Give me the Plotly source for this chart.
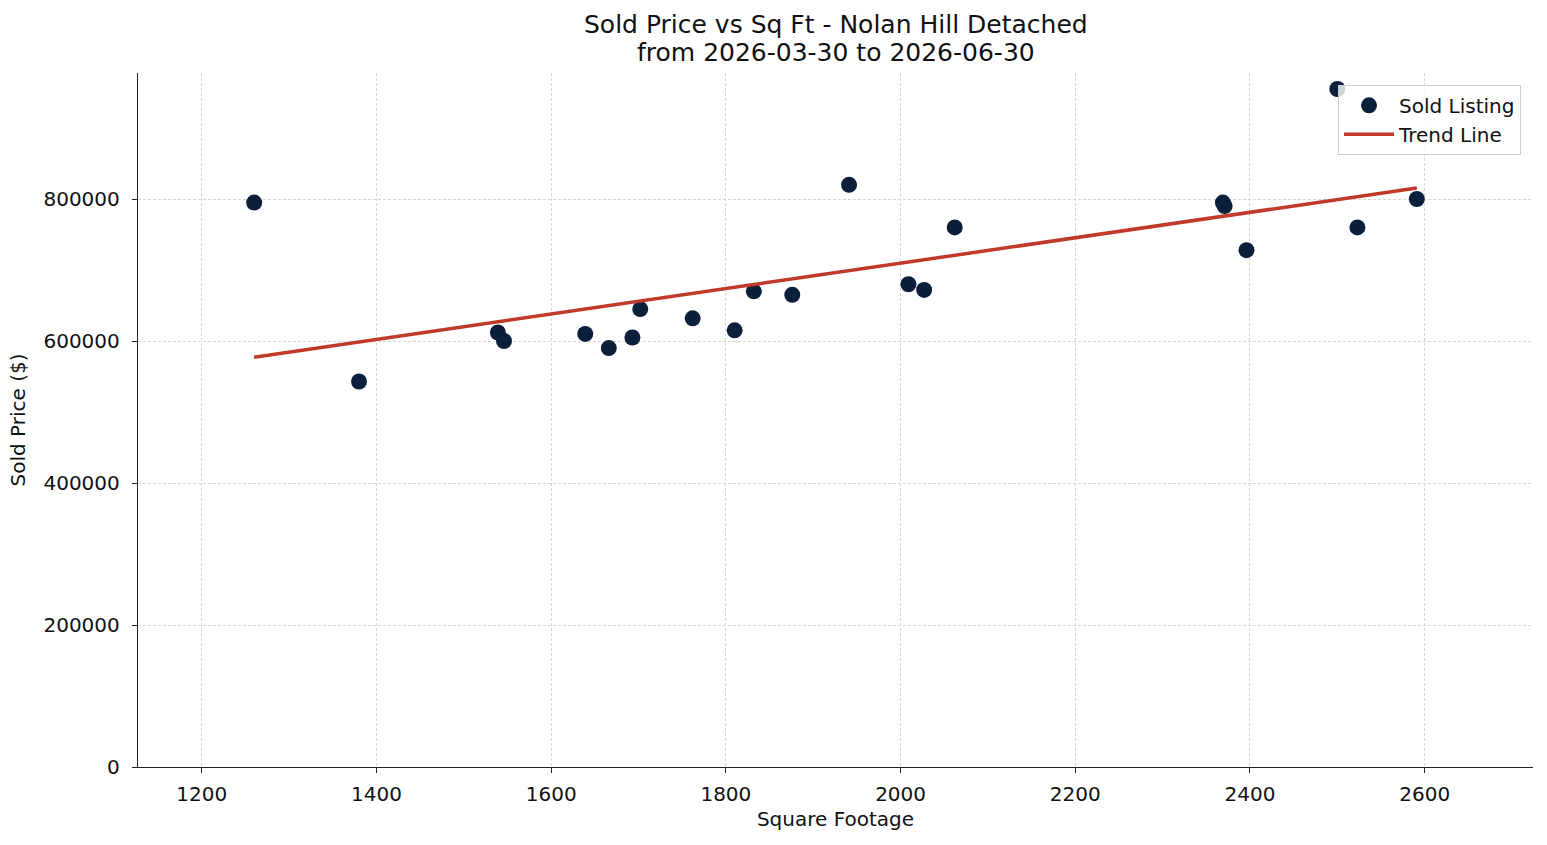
import numpy as np
import plotly.graph_objects as go

sqft = [1260, 1380, 1539, 1546, 1639, 1666, 1693, 1702, 1762, 1810, 1832, 1876,
        1941, 2009, 2027, 2062, 2369, 2371, 2396, 2500, 2523, 2591]
price = [795000, 543000, 612000, 600000, 610000, 590000, 605000, 645000, 632000,
         615000, 670000, 665000, 820000, 680000, 672000, 760000, 795000, 790000,
         728000, 955000, 760000, 800000]

x_ticks = [1200, 1400, 1600, 1800, 2000, 2200, 2400, 2600]
y_ticks = [0, 200000, 400000, 600000, 800000]

title_line1 = "Sold Price vs Sq Ft - Nolan Hill Detached"
title_line2 = "from 2026-03-30 to 2026-06-30"

slope, intercept = np.polyfit(sqft, price, 1)
trend_x = [min(sqft), max(sqft)]
trend_y = [slope * v + intercept for v in trend_x]

font = "DejaVu Sans"
txt = "#111111"

fig = go.Figure()
fig.add_trace(go.Scatter(
    x=sqft, y=price, mode="markers", name="Sold Listing",
    marker=dict(size=16, color="#0b1f3a", line=dict(width=0)),
))
fig.add_trace(go.Scatter(
    x=trend_x, y=trend_y, mode="lines", name="Trend Line",
    line=dict(color="#c0392b", width=3.5),
))

axis_common = dict(
    showgrid=True, gridcolor="#d6d6d6", griddash="3px,2px", gridwidth=0.8,
    showline=True, linecolor="#222222", linewidth=1.4,
    ticks="outside", ticklen=5, tickwidth=1.2, tickcolor="#222222",
    zeroline=False, tickfont=dict(family=font, size=20, color=txt),
    mirror=False,
)

fig.update_layout(
    width=1547, height=845,
    paper_bgcolor="white", plot_bgcolor="white",
    margin=dict(l=138, r=14, t=73, b=78),
    xaxis=dict(range=[1127, 2724], tickvals=x_ticks, ticklabelstandoff=4,
               title=dict(text="Square Footage", font=dict(family=font, size=20, color=txt), standoff=6),
               **axis_common),
    yaxis=dict(range=[0, 977500], tickvals=y_ticks, tickformat="d", ticklabelstandoff=8,
               title=dict(text="Sold Price ($)", font=dict(family=font, size=20, color=txt), standoff=12),
               **axis_common),
    legend=dict(
        x=0.9914, y=0.983, xanchor="right", yanchor="top",
        bgcolor="rgba(255,255,255,0.8)", bordercolor="#cccccc", borderwidth=1,
        font=dict(family=font, size=20, color=txt),
        tracegroupgap=0, itemwidth=50,
    ),
    showlegend=True,
)

plot_top, plot_h = 73, 694
for text, ypx in [(title_line1, 25), (title_line2, 53)]:
    fig.add_annotation(
        text=text, xref="paper", yref="paper", x=0.5, xanchor="center",
        y=(plot_top + plot_h - ypx) / plot_h, yanchor="middle", showarrow=False,
        font=dict(family=font, size=25, color=txt),
    )

fig.write_html("out.html")
